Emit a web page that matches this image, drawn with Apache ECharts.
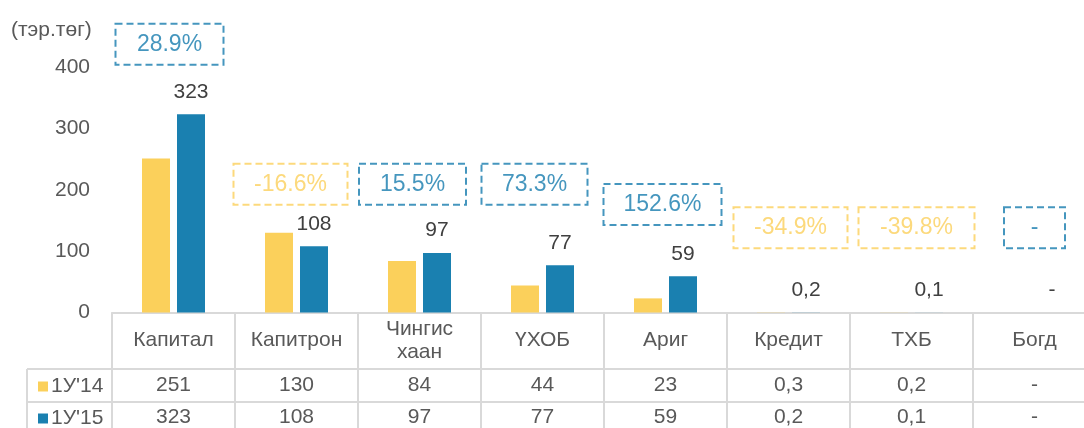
<!DOCTYPE html>
<html>
<head>
<meta charset="utf-8">
<script src="https://cdn.jsdelivr.net/npm/echarts@6/dist/echarts.min.js"></script>
<style>
html,body{margin:0;padding:0;background:#fff;overflow:hidden;}
#c{width:1097px;height:428px;}
</style>
</head>
<body>
<div id="c"></div>
<script>
// ---- data ----
const categories = ['Капитал', 'Капитрон', 'Чингис\nхаан', 'ҮХОБ', 'Ариг', 'Кредит', 'ТХБ', 'Богд'];
const seriesNames = ["1У'14", "1У'15"];
const values14 = [251, 130, 84, 44, 23, 0.3, 0.2, null];
const values15 = [323, 108, 97, 77, 59, 0.2, 0.1, null];
const changeLabels = ['28.9%', '-16.6%', '15.5%', '73.3%', '152.6%', '-34.9%', '-39.8%', '-'];
const changeUp = [true, false, true, true, true, false, false, true];
const changeLevel = [437, 209, 209, 209, 176, 138, 138, 138];
const yTicks = [0, 100, 200, 300, 400];
const unitLabel = '(тэр.төг)';

// ---- styles ----
const YELLOW = '#FBD05B';
const BLUE = '#1A80B0';
const PCT_BLUE = '#167CAE';
const TXT = '#595959';
const LINE = '#D9D9D9';
const FONT = 'Liberation Sans, Arial, sans-serif';
const FS = 21;
const boxW = [112, 118, 111, 110, 122, 118, 120, 65];
const boxDX = [-4, -6, -7, -8, -3, 2, 5, 0];

const fmt = v => v === null ? '-' : String(v).replace('.', ',');

const chart = echarts.init(document.getElementById('c'));

const boxData = changeLabels.map((t, i) => ({
  value: [i, changeLevel[i]],
  label: {
    formatter: t,
    color: changeUp[i] ? PCT_BLUE : YELLOW,
    borderColor: changeUp[i] ? PCT_BLUE : YELLOW,
    width: boxW[i] - 4,
    offset: [boxDX[i], 0]
  }
}));

const legendBase = {
  orient: 'horizontal', left: 33,
  itemWidth: 10, itemHeight: 10, itemGap: 4,
  icon: 'rect',
  textStyle: { fontSize: FS, color: TXT, lineHeight: FS, padding: [0, 0, 0, -2] },
  selectedMode: false
};

const option = {
  animation: false,
  textStyle: { fontFamily: FONT },
  title: {
    text: unitLabel, left: 6, top: 15,
    textStyle: { fontSize: FS, fontWeight: 'normal', color: TXT, fontFamily: FONT }
  },
  legend: [
    Object.assign({}, legendBase, { data: [seriesNames[0]], top: 371 }),
    Object.assign({}, legendBase, { data: [seriesNames[1]], top: 403 })
  ],
  grid: { left: 112, top: 67, bottom: 115, right: 1, containLabel: false },
  xAxis: [
    {
      type: 'category', data: categories, position: 'bottom',
      axisLine: { lineStyle: { color: LINE, width: 2 } },
      axisTick: { show: true, length: 120, lineStyle: { color: LINE, width: 2 } },
      axisLabel: { fontSize: FS, color: TXT, margin: 28, verticalAlign: 'middle', lineHeight: 23, interval: 0 }
    },
    {
      type: 'category', data: categories, position: 'bottom', offset: 56,
      axisLine: { lineStyle: { color: LINE, width: 2 } },
      axisTick: { show: false },
      axisLabel: { fontSize: FS, color: TXT, margin: 17, verticalAlign: 'middle', interval: 0,
        formatter: (v, i) => fmt(values14[i]) }
    },
    {
      type: 'category', data: categories, position: 'bottom', offset: 89,
      axisLine: { lineStyle: { color: LINE, width: 2 } },
      axisTick: { show: false },
      axisLabel: { fontSize: FS, color: TXT, margin: 16, verticalAlign: 'middle', interval: 0,
        formatter: (v, i) => fmt(values15[i]) }
    }
  ],
  yAxis: {
    type: 'value', min: yTicks[0], max: yTicks[yTicks.length - 1], interval: 100,
    axisLine: { show: false }, axisTick: { show: false }, splitLine: { show: false },
    axisLabel: { fontSize: FS, color: TXT, margin: 22 }
  },
  series: [
    {
      name: seriesNames[0], type: 'bar', barWidth: 28, barGap: '25%',
      itemStyle: { color: YELLOW },
      data: values14.map(v => v === null ? 0 : v)
    },
    {
      name: seriesNames[1], type: 'bar', barWidth: 28, barGap: '25%',
      itemStyle: { color: BLUE },
      label: { show: true, position: 'top', distance: 12, fontSize: FS, color: '#404040',
        formatter: p => fmt(values15[p.dataIndex]) },
      data: values15.map(v => v === null ? 0 : v)
    },
    {
      type: 'scatter', symbolSize: 1, itemStyle: { color: 'rgba(0,0,0,0)' },
      clip: false, silent: true, z: 5,
      label: {
        show: true, position: 'inside', fontSize: 23,
        height: 41, lineHeight: 41, align: 'center', verticalAlign: 'middle',
        borderWidth: 2, borderType: [7, 4], padding: [0, 0]
      },
      data: boxData
    }
  ],
  graphic: [
    { type: 'line', shape: { x1: 27, y1: 369, x2: 112, y2: 369 }, style: { stroke: LINE, lineWidth: 2 } },
    { type: 'line', shape: { x1: 27, y1: 402, x2: 112, y2: 402 }, style: { stroke: LINE, lineWidth: 2 } },
    { type: 'line', shape: { x1: 27, y1: 369, x2: 27, y2: 428 }, style: { stroke: LINE, lineWidth: 2 } }
  ]
};
chart.setOption(option);
</script>
</body>
</html>
